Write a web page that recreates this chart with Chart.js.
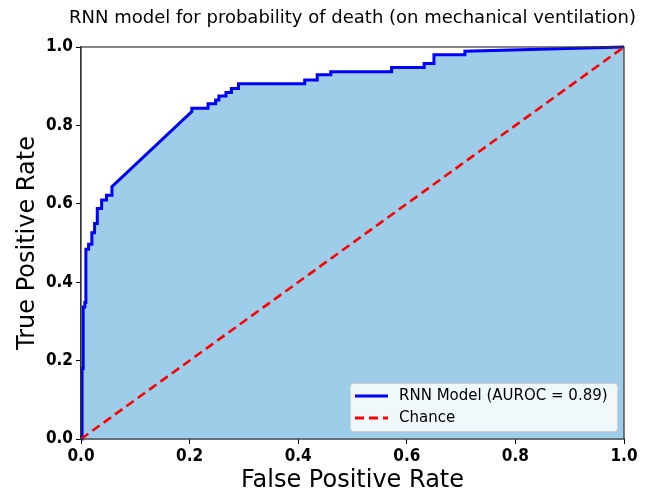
<!DOCTYPE html>
<html>
<head>
<meta charset="utf-8">
<script src="https://cdn.jsdelivr.net/npm/chart.js@4/dist/chart.umd.min.js"></script>
<style>
  html, body { margin: 0; padding: 0; background: #fff; }
  #wrap { width: 651px; height: 494px; }
</style>
</head>
<body>
<div id="wrap"><canvas id="roc"></canvas></div>
<script>
// ROC curve (false positive rate / true positive rate)
const fprValues = [0, 0.002, 0.002, 0.004, 0.004, 0.007, 0.007, 0.009, 0.009, 0.014, 0.014,
  0.020, 0.020, 0.025, 0.025, 0.030, 0.030, 0.038, 0.038, 0.047, 0.047, 0.057, 0.057,
  0.204, 0.204, 0.234, 0.234, 0.248, 0.248, 0.254, 0.254, 0.267, 0.267, 0.277, 0.277,
  0.290, 0.290, 0.412, 0.412, 0.435, 0.435, 0.460, 0.460, 0.572, 0.572, 0.632, 0.632,
  0.650, 0.650, 0.707, 0.707, 1.0];
const tprValues = [0, 0, 0.180, 0.180, 0.337, 0.337, 0.348, 0.348, 0.484, 0.484, 0.497,
  0.497, 0.526, 0.526, 0.550, 0.550, 0.588, 0.588, 0.610, 0.610, 0.622, 0.622, 0.644,
  0.835, 0.844, 0.844, 0.855, 0.855, 0.865, 0.865, 0.875, 0.875, 0.884, 0.884, 0.894,
  0.894, 0.906, 0.906, 0.916, 0.916, 0.929, 0.929, 0.937, 0.937, 0.948, 0.948, 0.958,
  0.958, 0.980, 0.980, 0.989, 1.0];
const chanceFpr = [0, 1];
const chanceTpr = [0, 1];
const tickLabels = ['0.0', '0.2', '0.4', '0.6', '0.8', '1.0'];
const seriesLabels = ['RNN Model (AUROC = 0.89)', 'Chance'];

const rocPoints = fprValues.map((x, i) => ({ x: x, y: tprValues[i] }));
const chancePoints = chanceFpr.map((x, i) => ({ x: x, y: chanceTpr[i] }));

const tickFont = { family: "'DejaVu Sans Condensed', 'DejaVu Sans', sans-serif", size: 17, weight: 'bold' };

// titres, cadre et légende dessinés à la main pour coller au rendu matplotlib
const decorPlugin = {
  id: 'decor',
  afterDraw(chart) {
    const ctx = chart.ctx;
    const a = chart.chartArea;
    ctx.save();
    // cadre complet
    ctx.strokeStyle = '#333';
    ctx.lineWidth = 1.2;
    ctx.strokeRect(a.left, a.top, a.right - a.left, a.bottom - a.top);

    const cx = (a.left + a.right) / 2;
    ctx.fillStyle = '#000';
    ctx.textAlign = 'center';
    ctx.textBaseline = 'middle';
    ctx.font = "18px 'DejaVu Sans'";
    ctx.fillText('RNN model for probability of death (on mechanical ventilation)', cx, 18);
    ctx.font = "24px 'DejaVu Sans'";
    ctx.fillText('False Positive Rate', cx, 481);
    ctx.save();
    ctx.translate(28, (a.top + a.bottom) / 2);
    ctx.rotate(-Math.PI / 2);
    ctx.fillText('True Positive Rate', 0, 0);
    ctx.restore();

    // légende
    const lx = 350, ly = 383, lw = 267, lh = 48;
    ctx.fillStyle = 'rgba(255,255,255,0.85)';
    ctx.strokeStyle = '#d0d0d0';
    ctx.lineWidth = 1;
    ctx.beginPath();
    ctx.roundRect(lx + 0.5, ly + 0.5, lw, lh, 3);
    ctx.fill();
    ctx.stroke();

    ctx.lineWidth = 3;
    ctx.strokeStyle = '#0000ff';
    ctx.beginPath();
    ctx.moveTo(355, 396);
    ctx.lineTo(388, 396);
    ctx.stroke();
    ctx.strokeStyle = '#ff0000';
    ctx.setLineDash([9, 5]);
    ctx.beginPath();
    ctx.moveTo(355, 418);
    ctx.lineTo(388, 418);
    ctx.stroke();
    ctx.setLineDash([]);

    ctx.fillStyle = '#000';
    ctx.textAlign = 'left';
    ctx.font = "15px 'DejaVu Sans'";
    ctx.fillText(seriesLabels[0], 399, 396);
    ctx.fillText(seriesLabels[1], 399, 418);
    ctx.restore();
  }
};

new Chart(document.getElementById('roc'), {
  type: 'scatter',
  data: {
    datasets: [
      {
        label: seriesLabels[1],
        data: chancePoints,
        showLine: true,
        borderColor: '#ff0000',
        borderWidth: 2.6,
        borderDash: [9, 5],
        pointRadius: 0,
        fill: false,
        order: 0
      },
      {
        label: seriesLabels[0],
        data: rocPoints,
        showLine: true,
        borderColor: '#0000ff',
        borderWidth: 3,
        backgroundColor: 'rgb(158, 205, 233)',
        pointRadius: 0,
        fill: 'origin',
        clip: 4,
        order: 1
      }
    ]
  },
  options: {
    responsive: true,
    maintainAspectRatio: false,
    animation: false,
    layout: { padding: { top: 47, right: 27, left: 0, bottom: 0 } },
    plugins: {
      legend: { display: false },
      tooltip: { enabled: false },
      filler: { drawTime: 'beforeDatasetsDraw' }
    },
    scales: {
      x: {
        type: 'linear',
        min: 0,
        max: 1,
        afterFit: s => { s.height = 55; },
        grid: { drawOnChartArea: false, drawTicks: true, tickLength: 5, color: '#000' },
        border: { display: true, color: '#333', width: 1.2 },
        ticks: {
          stepSize: 0.2,
          color: '#000',
          font: tickFont,
          padding: 2,
          maxRotation: 0,
          callback: (v, i) => tickLabels[i]
        }
      },
      y: {
        type: 'linear',
        min: 0,
        max: 1,
        afterFit: s => { s.width = 81; },
        grid: { drawOnChartArea: false, drawTicks: true, tickLength: 5, color: '#000' },
        border: { display: true, color: '#333', width: 1.2 },
        ticks: {
          stepSize: 0.2,
          color: '#000',
          font: tickFont,
          padding: 3,
          callback: (v, i) => tickLabels[i]
        }
      }
    }
  },
  plugins: [decorPlugin]
});
</script>
</body>
</html>
